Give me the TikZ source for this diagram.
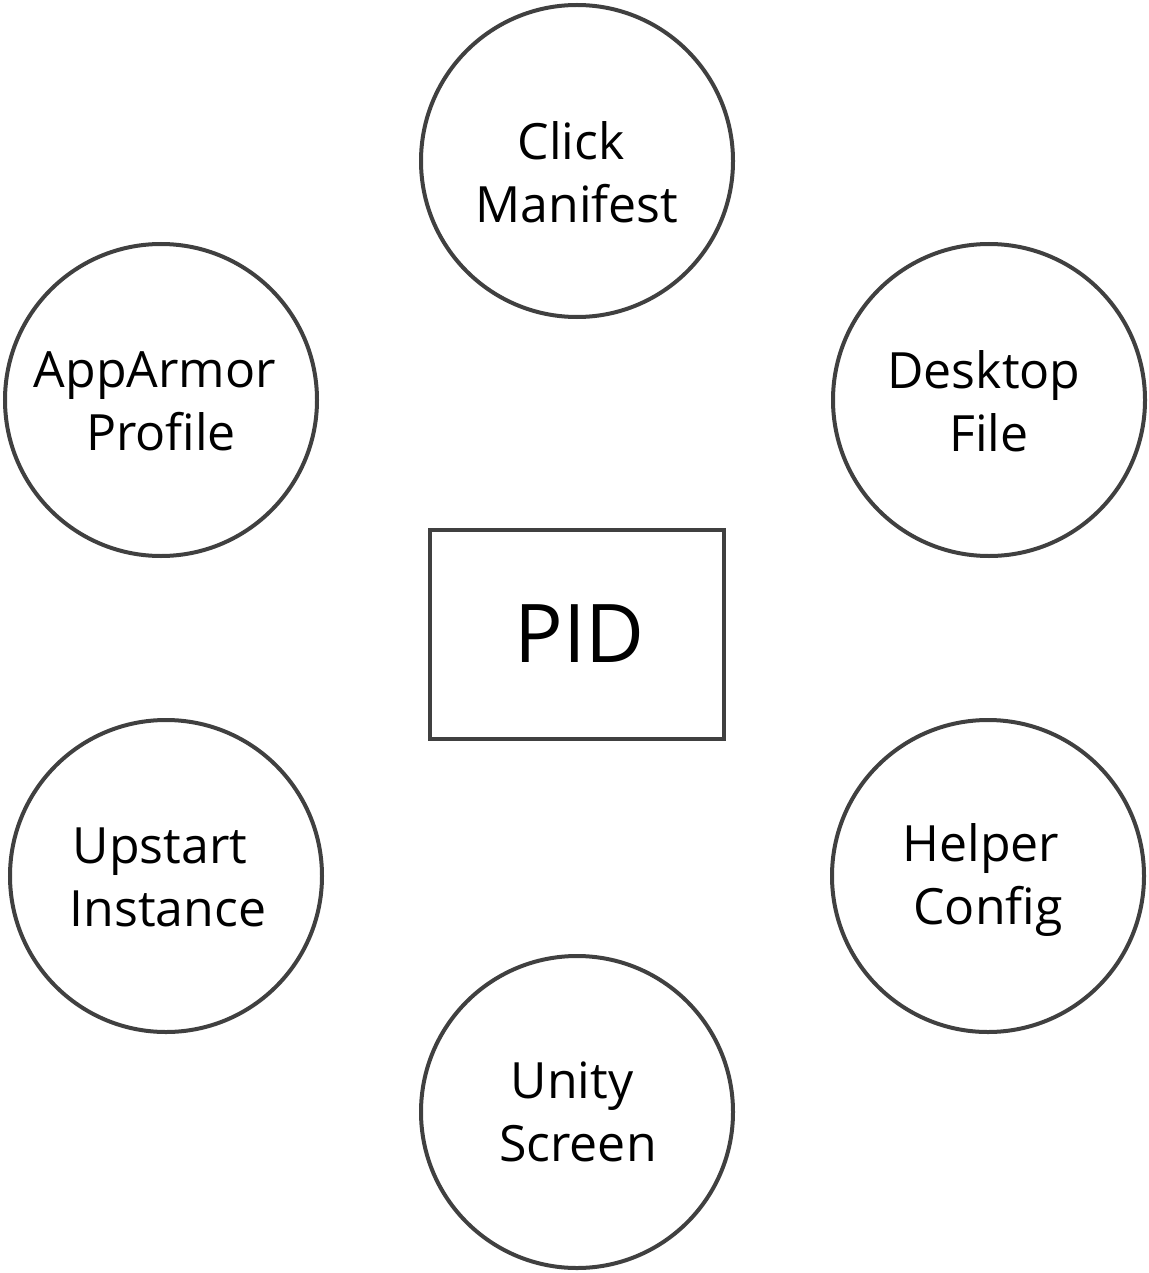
\documentclass[tikz,border=0pt]{standalone}
\usepackage{fontspec}
\setmainfont{Open Sans}
\begin{document}
\begin{tikzpicture}[x=1pt,y=-1pt,
  ring/.style={circle,draw=linec,line width=4pt,minimum size=312pt,inner sep=0pt},
  ringtext/.style={align=center,inner sep=0pt,font=\fontsize{50}{63}\selectfont},
  pidbox/.style={rectangle,draw=linec,line width=4pt,minimum width=294pt,minimum height=209pt,inner sep=0pt,font=\fontsize{81}{90}\selectfont}]
\definecolor{linec}{HTML}{404040}
\useasboundingbox (0,0) rectangle (1148,1273);
\node[ring] (click) at (577,161) {};
\node[ring] (apparmor) at (161,400) {};
\node[ring] (desktop) at (989,400) {};
\node[ring] (upstart) at (166,876) {};
\node[ring] (helper) at (988,876) {};
\node[ring] (unity) at (577,1112) {};
\node[ringtext] (clickt) at (577,172) {Click\hspace*{12pt}\\Manifest};
\node[ringtext] (apparmort) at (161,401) {AppArmor\hspace*{12pt}\\Profile};
\node[ringtext] (desktopt) at (989,401) {Desktop\hspace*{10pt}\\File};
\node[ringtext] (upstartt) at (168,877) {Upstart\hspace*{16pt}\\Instance};
\node[ringtext] (helpert) at (988,880) {Helper\hspace*{14pt}\\Config};
\node[ringtext] (unityt) at (578,1112) {Unity\hspace*{12pt}\\Screen};
\node[pidbox] (pid) at (576.5,634) {\hspace*{6pt}PID};
\end{tikzpicture}
\end{document}
